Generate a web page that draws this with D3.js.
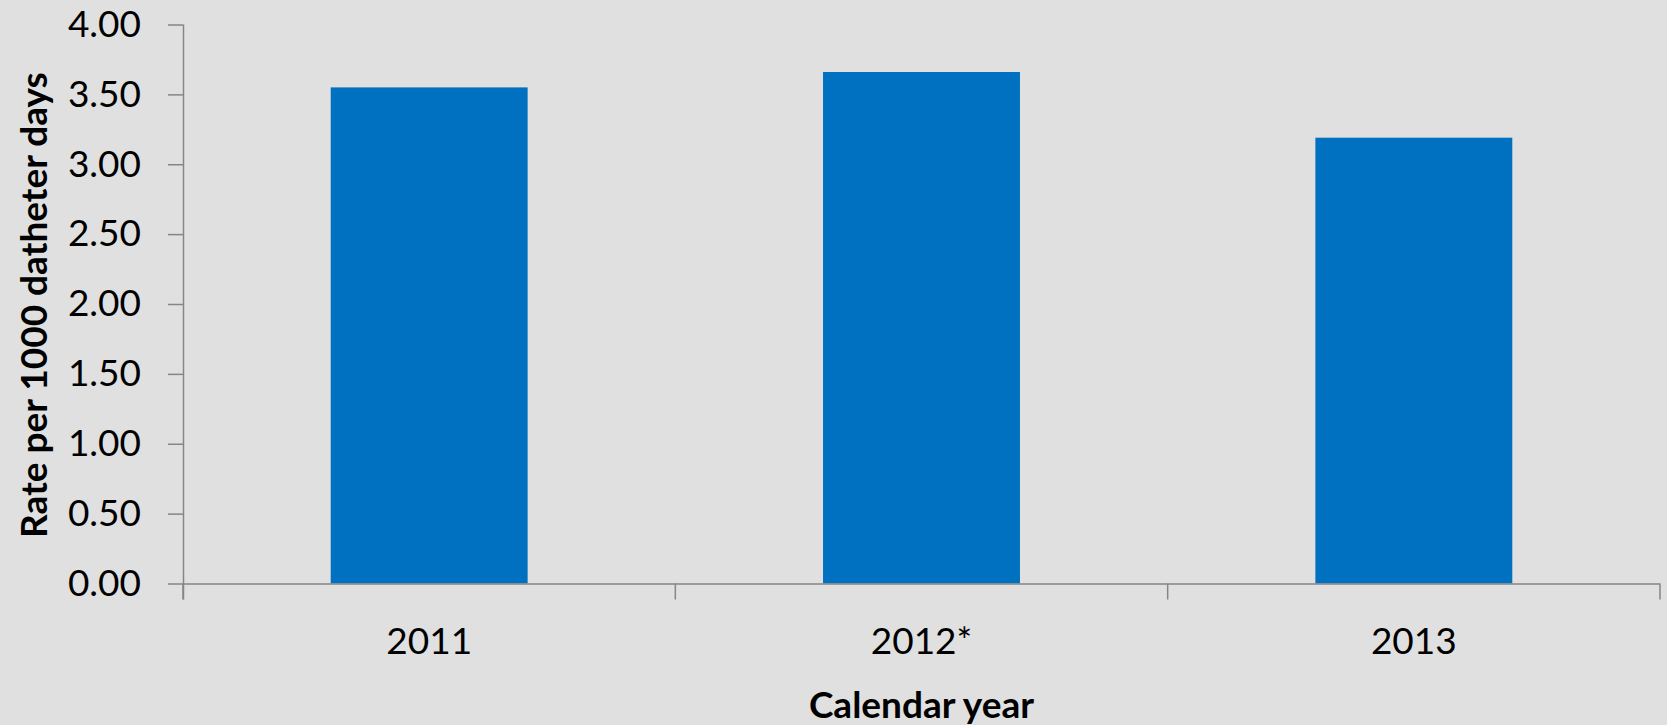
<!DOCTYPE html>
<html>
<head>
<meta charset="utf-8">
<script src="https://cdn.jsdelivr.net/npm/d3@7"></script>
<style>
  html, body { margin: 0; padding: 0; background: #e0e0e0; }
  svg { display: block; }
</style>
</head>
<body>
<svg id="chart" width="1667" height="725"></svg>
<script>
// Catheter-associated rate by calendar year
const categories = ["2011", "2012*", "2013"];
const rates = [3.55, 3.66, 3.19];
const yTicks = [0, 0.5, 1, 1.5, 2, 2.5, 3, 3.5, 4];
const yTitle = "Rate per 1000 datheter days";
const xTitle = "Calendar year";

const W = 1667, H = 725;
const margin = { top: 24.5, right: 7, bottom: 141.5, left: 183 };
const iw = W - margin.left - margin.right;
const ih = H - margin.top - margin.bottom;

const svg = d3.select("#chart");
svg.append("rect").attr("width", W).attr("height", H).attr("fill", "#e0e0e0");

const g = svg.append("g").attr("transform", `translate(${margin.left},${margin.top})`);

const x = d3.scaleBand().domain(categories).range([0, iw]).paddingInner(0.6).paddingOuter(0.3);
const y = d3.scaleLinear().domain([0, 4]).range([ih, 0]);

const axisColor = "#868686";
const font = "Lato, 'Open Sans', sans-serif";

// bars
g.selectAll("rect.bar")
  .data(categories.map((c, i) => ({ c, v: rates[i] })))
  .join("rect")
  .attr("class", "bar")
  .attr("x", d => x(d.c))
  .attr("width", x.bandwidth())
  .attr("y", d => y(d.v))
  .attr("height", d => y(0) - y(d.v))
  .attr("fill", "#0070c0");

// y axis
const yAxis = g.append("g")
  .call(d3.axisLeft(y).tickValues(yTicks).tickSize(15).tickPadding(27).tickFormat(d3.format(".2f")));
yAxis.select(".domain").attr("stroke", axisColor).attr("stroke-width", 1.5)
  .attr("d", `M0.5,${y(4)}V${y(0) + 16}`);
yAxis.selectAll(".tick line").attr("stroke", axisColor).attr("stroke-width", 1.5);
yAxis.selectAll(".tick text")
  .attr("font-family", font).attr("font-size", 37).attr("fill", "#000");

// x axis: labels centred in each category, tick marks between categories
const xAxis = g.append("g").attr("transform", `translate(0,${ih})`)
  .call(d3.axisBottom(x).tickSize(0).tickPadding(44));
xAxis.select(".domain").attr("stroke", axisColor).attr("stroke-width", 1.5)
  .attr("d", `M0,0.5H${iw}`);
xAxis.selectAll(".tick text")
  .attr("font-family", font).attr("font-size", 37).attr("fill", "#000");
const boundaries = d3.range(categories.length + 1).map(i => i * x.step());
xAxis.selectAll("line.sep")
  .data(boundaries)
  .join("line")
  .attr("class", "sep")
  .attr("x1", d => d).attr("x2", d => d)
  .attr("y1", 0).attr("y2", 16)
  .attr("stroke", axisColor).attr("stroke-width", 1.5);

// axis titles
svg.append("text")
  .attr("x", margin.left + iw / 2)
  .attr("y", 718)
  .attr("text-anchor", "middle")
  .attr("font-family", font).attr("font-weight", "bold").attr("font-size", 37)
  .attr("fill", "#000")
  .text(xTitle);

svg.append("text")
  .attr("transform", `translate(47,305) rotate(-90)`)
  .attr("text-anchor", "middle")
  .attr("font-family", font).attr("font-weight", "bold").attr("font-size", 37)
  .attr("fill", "#000")
  .text(yTitle);
</script>
</body>
</html>
